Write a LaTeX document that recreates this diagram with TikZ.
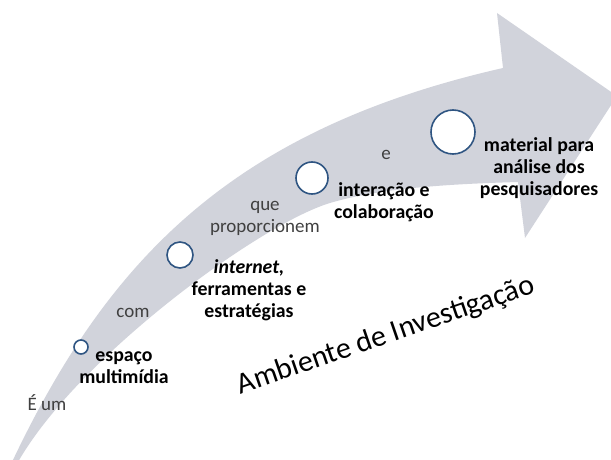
\documentclass[tikz,border=0pt]{standalone}
\usepackage{fontspec}
\setmainfont{Carlito}
\usetikzlibrary{positioning}
\definecolor{arrowgray}{RGB}{209,211,219}
\definecolor{ringblue}{RGB}{47,85,130}
\definecolor{linkgray}{RGB}{64,64,64}
\begin{document}
\begin{tikzpicture}[x=1pt,y=-1pt,
  ring/.style={circle,draw=ringblue,fill=white,line width=1.6pt,inner sep=0pt},
  stage/.style={align=center,font=\fontsize{19.8}{22}\selectfont\bfseries,inner sep=0pt},
  link/.style={align=center,font=\fontsize{19}{22}\selectfont,text=linkgray,inner sep=0pt}]
\useasboundingbox (0,0) rectangle (611,460);
\begin{scope}
\clip (0,0) rectangle (611,460);
\fill[arrowgray] (12,462) .. controls (107,262) and (230,130) .. (503,68) -- (497,13) -- (617,96) -- (525,238) -- (518,182) .. controls (450,184) and (380,188) .. (330,203) .. controls (260,224) and (78,357) .. (18,462) -- cycle;
\end{scope}
\node[ring,minimum size=14pt] (espring) at (81,347) {};
\node[ring,minimum size=26pt] (netring) at (180,255) {};
\node[ring,minimum size=32pt] (intring) at (312,178) {};
\node[ring,minimum size=44pt] (matring) at (453,132) {};
\node[link] (eum) at (47,403) {É um};
\node[stage] (esp) at (124,368) {espaço\\multimídia};
\node[link] (com) at (133,313) {com};
\node[stage] (net) at (249,290) {\textit{internet,}\\ferramentas e\\estratégias};
\node[link] (que) at (265,218) {que\\proporcionem};
\node[link] (e) at (386,155) {e};
\node[stage] (inter) at (384,202) {interação e\\colaboração};
\node[stage] (mat) at (539,168) {material para\\análise dos\\pesquisadores};
\node[font=\fontsize{30}{36}\selectfont,rotate=19,inner sep=0pt] (amb) at (386,336) {Ambiente de Investigação};
\end{tikzpicture}
\end{document}
